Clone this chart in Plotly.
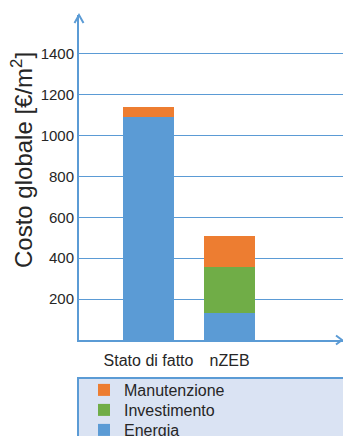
import plotly.graph_objects as go

categories = ["Stato di fatto", "nZEB"]
energia = [1090, 130]
investimento = [0, 225]
manutenzione = [48, 153]
y_ticks = [200, 400, 600, 800, 1000, 1200, 1400]

BLUE = "#5B9BD5"
GREEN = "#70AD47"
ORANGE = "#ED7D31"
TXT = "#262626"
FONT = "Liberation Sans, Arial, sans-serif"

L, T, B = 79, 15, 96
W, H = 343, 436
pw = W - L
ph = H - T - B

series = [("Energia", energia, BLUE, "legend3", 430),
          ("Investimento", investimento, GREEN, "legend2", 410),
          ("Manutenzione", manutenzione, ORANGE, "legend", 390)]

fig = go.Figure()
legends = {}
for name, vals, col, lg, yc in series:
    fig.add_trace(go.Bar(x=categories, y=vals, name=name, marker_color=col,
                         marker_line_width=0, width=0.63, legend=lg))
    legends[lg] = dict(
        x=(84 - L) / pw, xanchor="left",
        y=-((yc - 17) - (H - B)) / ph, yanchor="top",
        bgcolor="rgba(0,0,0,0)", borderwidth=0,
        font=dict(family=FONT, size=16, color=TXT),
    )

fig.update_layout(
    width=W, height=H,
    margin=dict(l=L, r=0, t=T, b=B, pad=0, autoexpand=False),
    barmode="stack",
    paper_bgcolor="white", plot_bgcolor="white",
    font=dict(family=FONT, color=TXT, size=16),
    showlegend=True,
    xaxis=dict(
        type="category", range=[-0.858, 2.40],
        showline=True, linecolor=BLUE, linewidth=2,
        showgrid=False, ticks="", zeroline=False,
        tickfont=dict(family=FONT, size=16, color=TXT),
        ticklabelstandoff=5,
    ),
    yaxis=dict(
        range=[0, 1590], tickvals=y_ticks,
        showline=True, linecolor=BLUE, linewidth=2,
        showgrid=True, gridcolor=BLUE, gridwidth=1,
        zeroline=False, ticks="",
        tickfont=dict(family=FONT, size=15, color=TXT),
        ticklabelstandoff=0,
    ),
    shapes=[
        dict(type="rect", xref="paper", yref="paper", layer="below",
             x0=-1 / pw, x1=1.05, y0=-0.5, y1=-(378 - (H - B)) / ph,
             line=dict(color=BLUE, width=2), fillcolor="#DAE3F3"),
        dict(type="path", xref="paper", yref="paper",
             xsizemode="pixel", ysizemode="pixel", xanchor=0, yanchor=1,
             path="M-4.5,-8 L0,0 L4.5,-8", line=dict(color=BLUE, width=2)),
        dict(type="path", xref="paper", yref="paper",
             xsizemode="pixel", ysizemode="pixel", xanchor=1, yanchor=0,
             path="M-7,4.5 L-1,0 L-7,-4.5", line=dict(color=BLUE, width=2)),
    ],
    annotations=[
        dict(text="Costo globale [€/m<sup>2</sup>]", textangle=-90,
             xref="paper", yref="paper", x=-(L - 22) / pw, y=(H - B - 160) / ph,
             xanchor="center", yanchor="middle", showarrow=False,
             font=dict(family=FONT, size=24, color=TXT)),
    ],
    **legends,
)

fig.write_html("out.html")
